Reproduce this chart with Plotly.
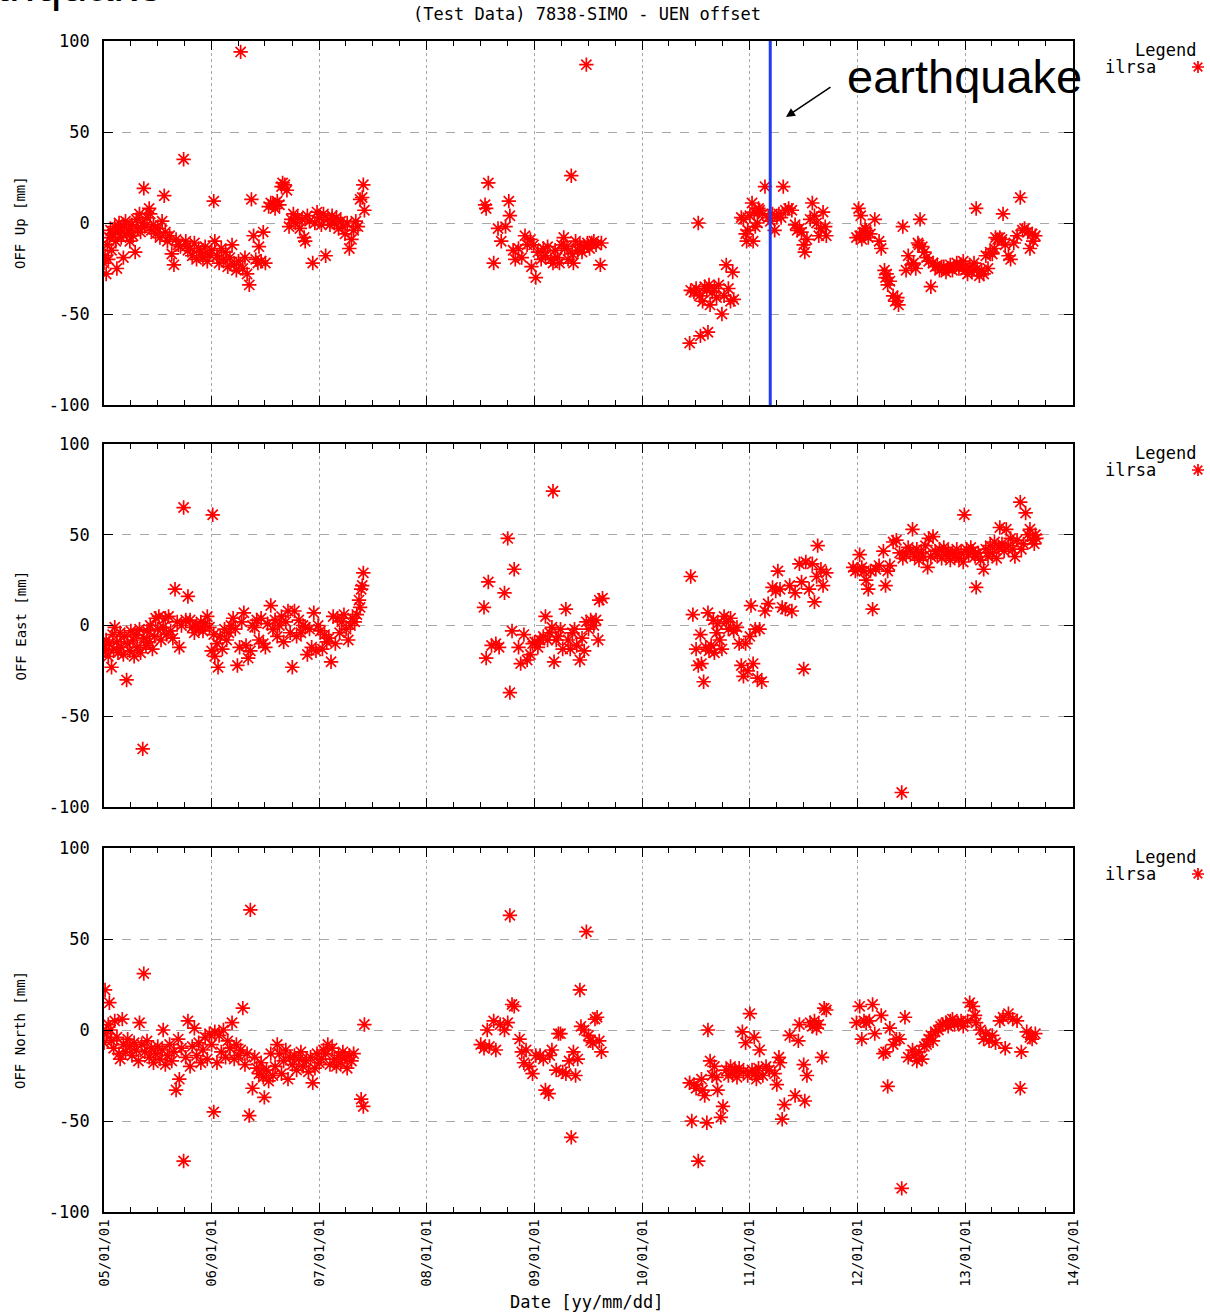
import pandas as pd
import plotly.graph_objects as go

# ---------------- data (decimal years, mm) ----------------
up_years = [
    2005.00, 2005.01, 2005.02, 2005.03, 2005.04, 2005.05, 2005.06, 2005.07, 2005.08, 2005.10,
    2005.11, 2005.12, 2005.13, 2005.14, 2005.15, 2005.16, 2005.18, 2005.19, 2005.20, 2005.21,
    2005.23, 2005.24, 2005.26, 2005.27, 2005.29, 2005.30, 2005.31, 2005.33, 2005.34, 2005.36,
    2005.37, 2005.38, 2005.40, 2005.42, 2005.43, 2005.44, 2005.46, 2005.48, 2005.50, 2005.52,
    2005.54, 2005.56, 2005.57, 2005.59, 2005.61, 2005.63, 2005.65, 2005.67, 2005.69, 2005.71,
    2005.74, 2005.76, 2005.78, 2005.80, 2005.82, 2005.84, 2005.86, 2005.88, 2005.90, 2005.92,
    2005.94, 2005.96, 2005.98, 2006.00, 2006.02, 2006.03, 2006.05, 2006.07, 2006.09, 2006.11,
    2006.13, 2006.15, 2006.17, 2006.19, 2006.21, 2006.23, 2006.25, 2006.27, 2006.29, 2006.31,
    2006.33, 2006.35, 2006.37, 2006.39, 2006.41, 2006.43, 2006.44, 2006.46, 2006.48, 2006.50,
    2006.53, 2006.55, 2006.57, 2006.59, 2006.61, 2006.63, 2006.65, 2006.66, 2006.68, 2006.70,
    2006.72, 2006.74, 2006.76, 2006.78, 2006.80, 2006.82, 2006.84, 2006.86, 2006.87, 2006.89,
    2006.91, 2006.94, 2006.96, 2006.98, 2007.00, 2007.02, 2007.04, 2007.06, 2007.08, 2007.10,
    2007.12, 2007.14, 2007.16, 2007.18, 2007.20, 2007.22, 2007.24, 2007.26, 2007.28, 2007.30,
    2007.32, 2007.34, 2007.36, 2007.38, 2007.40, 2007.41, 2007.42,
    2008.54, 2008.55, 2008.57, 2008.62, 2008.66, 2008.69, 2008.73, 2008.76, 2008.77, 2008.80,
    2008.82, 2008.85, 2008.88, 2008.91, 2008.93, 2008.96, 2008.97, 2008.99, 2009.01, 2009.03,
    2009.06, 2009.08, 2009.10, 2009.12, 2009.15, 2009.17, 2009.19, 2009.21, 2009.23, 2009.25,
    2009.27, 2009.28, 2009.30, 2009.31, 2009.34, 2009.35, 2009.36, 2009.38, 2009.40, 2009.42,
    2009.44, 2009.46, 2009.48, 2009.49, 2009.51, 2009.53, 2009.55, 2009.57, 2009.61, 2009.62,
    2010.44, 2010.45, 2010.48, 2010.50, 2010.52, 2010.53, 2010.54, 2010.56, 2010.58, 2010.60,
    2010.61, 2010.62, 2010.63, 2010.65, 2010.67, 2010.69, 2010.71, 2010.74, 2010.76, 2010.78,
    2010.80, 2010.82, 2010.84, 2010.85, 2010.92, 2010.94, 2010.96, 2010.97, 2010.98, 2011.00,
    2011.02, 2011.03, 2011.04, 2011.05, 2011.07, 2011.08, 2011.09, 2011.12, 2011.14, 2011.17,
    2011.19, 2011.21, 2011.23, 2011.25, 2011.27, 2011.29, 2011.31, 2011.33, 2011.36, 2011.39,
    2011.42, 2011.44, 2011.46, 2011.48, 2011.50, 2011.51, 2011.53, 2011.56, 2011.58, 2011.60,
    2011.62, 2011.64, 2011.66, 2011.68, 2011.70, 2011.71,
    2011.99, 2012.01, 2012.02, 2012.03, 2012.04, 2012.06, 2012.07, 2012.08, 2012.10, 2012.12,
    2012.16, 2012.20, 2012.22, 2012.25, 2012.26, 2012.27, 2012.28, 2012.30, 2012.33, 2012.35,
    2012.37, 2012.38, 2012.42, 2012.45, 2012.47, 2012.50, 2012.52, 2012.54, 2012.56, 2012.57,
    2012.58, 2012.60, 2012.62, 2012.64, 2012.66, 2012.68, 2012.70, 2012.72, 2012.74, 2012.76,
    2012.78, 2012.80, 2012.82, 2012.84, 2012.86, 2012.88, 2012.90, 2012.92, 2012.94, 2012.96,
    2012.98, 2013.00, 2013.02, 2013.04, 2013.06, 2013.08, 2013.10, 2013.11, 2013.13, 2013.15,
    2013.17, 2013.19, 2013.21, 2013.23, 2013.25, 2013.27, 2013.28, 2013.30, 2013.32, 2013.34,
    2013.35, 2013.37, 2013.40, 2013.42, 2013.45, 2013.48, 2013.51, 2013.53, 2013.55, 2013.58,
    2013.60, 2013.62, 2013.63, 2013.65,
]
up_values = [
    -22, -18, -28, -12, -20, -8, -4, -15, -6, -2,
    -10, -25, -5, 0, -3, -8, -19, -2, 1, -6,
    -4, -10, -1, -7, -16, 2, -3, 5, -5, 0,
    19, -2, 3, 8, 5, -4, -1, -6, -3, -8,
    1, 15, -5, -10, -7, -17, -23, -9, -12, -13,
    35, -10, -15, -14, -18, -11, -20, -14, -16, -19,
    -13, -21, -17, -15, 12, -10, -18, -22, -14, -20,
    -16, -24, -19, -12, -23, -26, -21, 94, -25, -19,
    -28, -34, 13, -7, -20, -22, -13, -21, -5, -22,
    9, 11, 10, 8, 12, 10, 20, 22, 21, 18,
    -2, 2, 5, 0, 3, -3, 2, -8, -10, 4,
    1, -22, 0, 6, 3, -1, 5, -18, 2, -1,
    4, 0, 3, -3, 1, -2, -6, 0, -14, -9,
    -4, 1, -2, 13, 14, 21, 7,
    10, 8, 22, -22, -3, -10, -2, 12, 4, -15,
    -20, -14, -19, -7, -12, -9, -24, -12, -30, -16,
    -20, -14, -18, -13, -20, -22, -15, -19, -22, -12,
    -8, -14, -13, -20, 26, -17, -22, -10, -15, -12,
    -16, -13, 87, -11, -14, -11, -10, -12, -23, -11,
    -66, -37, -38, -36, 0, -40, -62, -43, -35, -37,
    -60, -34, -45, -38, -36, -41, -34, -50, -40, -23,
    -36, -43, -27, -42, 3, 2, -6, -10, -4, 4,
    11, -10, 6, -2, 0, 8, 7, 5, 20, 3,
    1, 5, -4, 3, 5, 3, 20, 7, 8, 7,
    -1, -4, -3, -5, -12, -16, -9, 2, 11, 4,
    0, -7, -3, 6, -2, -7,
    -8, 8, -7, 4, -9, -5, -3, -4, -8, -6,
    2, -10, -14, -26, -30, -28, -34, -32, -40, -43,
    -41, -45, -2, -26, -18, -23, -22, -25, -11, -12,
    2, -13, -16, -19, -21, -35, -22, -24, -23, -26,
    -25, -24, -27, -25, -23, -26, -24, -22, -25, -23,
    -21, -26, -28, -24, -27, -22, 8, -25, -29, -26,
    -28, -18, -25, -16, -17, -14, -8, -9, -8, -9,
    5, -12, -18, -20, -11, -7, 14, -4, -3, -5,
    -14, -6, -10, -7,
]

east_years = [
    2005.00, 2005.01, 2005.02, 2005.04, 2005.05, 2005.07, 2005.08, 2005.09, 2005.10, 2005.12,
    2005.13, 2005.15, 2005.16, 2005.18, 2005.19, 2005.21, 2005.22, 2005.24, 2005.25, 2005.27,
    2005.28, 2005.30, 2005.31, 2005.33, 2005.34, 2005.36, 2005.37, 2005.39, 2005.40, 2005.42,
    2005.43, 2005.45, 2005.47, 2005.48, 2005.50, 2005.51, 2005.53, 2005.55, 2005.57, 2005.58,
    2005.60, 2005.62, 2005.64, 2005.66, 2005.68, 2005.70, 2005.72, 2005.74, 2005.76, 2005.78,
    2005.80, 2005.82, 2005.84, 2005.86, 2005.88, 2005.90, 2005.92, 2005.94, 2005.96, 2005.98,
    2006.00, 2006.01, 2006.02, 2006.03, 2006.05, 2006.06, 2006.08, 2006.10, 2006.12, 2006.14,
    2006.16, 2006.18, 2006.20, 2006.22, 2006.24, 2006.26, 2006.28, 2006.30, 2006.32, 2006.34,
    2006.36, 2006.38, 2006.40, 2006.42, 2006.44, 2006.46, 2006.48, 2006.50, 2006.52, 2006.55,
    2006.57, 2006.59, 2006.61, 2006.63, 2006.65, 2006.67, 2006.69, 2006.71, 2006.73, 2006.75,
    2006.77, 2006.79, 2006.81, 2006.83, 2006.85, 2006.87, 2006.89, 2006.91, 2006.93, 2006.95,
    2006.97, 2006.99, 2007.01, 2007.03, 2007.05, 2007.07, 2007.09, 2007.11, 2007.13, 2007.15,
    2007.17, 2007.19, 2007.21, 2007.23, 2007.25, 2007.27, 2007.29, 2007.31, 2007.33, 2007.35,
    2007.37, 2007.38, 2007.39, 2007.40, 2007.41,
    2008.53, 2008.55, 2008.57, 2008.60, 2008.64, 2008.67, 2008.72, 2008.75, 2008.77, 2008.79,
    2008.81, 2008.85, 2008.87, 2008.90, 2008.93, 2008.96, 2008.98, 2009.00, 2009.03, 2009.05,
    2009.08, 2009.10, 2009.12, 2009.14, 2009.16, 2009.17, 2009.18, 2009.20, 2009.22, 2009.24,
    2009.26, 2009.29, 2009.31, 2009.33, 2009.35, 2009.37, 2009.39, 2009.42, 2009.44, 2009.46,
    2009.48, 2009.50, 2009.52, 2009.55, 2009.57, 2009.59, 2009.60, 2009.63,
    2010.45, 2010.47, 2010.50, 2010.52, 2010.54, 2010.55, 2010.57, 2010.59, 2010.61, 2010.62,
    2010.64, 2010.66, 2010.67, 2010.69, 2010.70, 2010.72, 2010.74, 2010.76, 2010.78, 2010.80,
    2010.82, 2010.85, 2010.88, 2010.90, 2010.92, 2010.94, 2010.96, 2010.98, 2011.00, 2011.01,
    2011.03, 2011.05, 2011.07, 2011.09, 2011.11, 2011.14, 2011.17, 2011.21, 2011.24, 2011.26,
    2011.28, 2011.30, 2011.33, 2011.37, 2011.39, 2011.42, 2011.46, 2011.48, 2011.50, 2011.52,
    2011.55, 2011.58, 2011.60, 2011.62, 2011.63, 2011.66, 2011.68, 2011.71,
    2011.96, 2011.98, 2012.00, 2012.02, 2012.04, 2012.06, 2012.08, 2012.10, 2012.12, 2012.14,
    2012.17, 2012.20, 2012.24, 2012.26, 2012.28, 2012.30, 2012.33, 2012.36, 2012.39, 2012.41,
    2012.42, 2012.45, 2012.47, 2012.49, 2012.51, 2012.53, 2012.55, 2012.57, 2012.59, 2012.61,
    2012.63, 2012.65, 2012.66, 2012.68, 2012.70, 2012.72, 2012.74, 2012.76, 2012.78, 2012.80,
    2012.82, 2012.84, 2012.86, 2012.88, 2012.90, 2012.92, 2012.94, 2012.96, 2012.98, 2012.99,
    2013.01, 2013.03, 2013.05, 2013.07, 2013.09, 2013.10, 2013.12, 2013.14, 2013.17, 2013.19,
    2013.21, 2013.23, 2013.25, 2013.27, 2013.29, 2013.31, 2013.32, 2013.34, 2013.36, 2013.38,
    2013.40, 2013.42, 2013.44, 2013.46, 2013.48, 2013.51, 2013.52, 2013.54, 2013.56, 2013.58,
    2013.60, 2013.62, 2013.64, 2013.65, 2013.66,
]
east_values = [
    -11, -14, -8, -17, -10, -23, -5, -13, -1, -9,
    -15, -4, -12, -16, -6, -30, -10, -14, -3, -8,
    -17, -5, -12, -2, -15, -68, -7, -11, -3, -9,
    0, -13, -6, 4, -2, 5, -8, -1, 4, -5,
    5, -3, -7, 20, 2, -12, 0, 65, 3, 16,
    3, -1, -4, 0, -2, 2, -3, 1, 5, -1,
    -14, 61, -5, -17, -10, -23, -6, -13, -2, -8,
    -4, 0, 4, -2, -22, -12, 2, 7, -11, -18,
    -14, 0, -1, 3, -8, 4, -10, -12, 1, 11,
    -2, 3, -6, 0, 5, -9, 2, 8, -4, -23,
    8, -6, 3, -4, 0, -1, -16, -2, -12, 7,
    -14, 0, -3, -13, -5, -9, -7, -20, 5, -10,
    4, -4, 2, 6, -2, -8, 0, 4, 2, 6,
    14, 10, 20, 22, 29,
    10, -18, 24, -11, -10, -12, 18, 48, -37, -3,
    31, -12, -21, -5, -19, -16, -10, -9, -12, -8,
    -6, 5, -8, -4, -1, 74, -20, -8, -6, -2,
    -13, 9, -8, -13, -4, -2, -11, -19, -7, -14,
    2, -2, 3, 0, 3, -8, 14, 15,
    27, 6, -13, -22, -5, -21, -31, -12, 7, -14,
    -11, 3, -15, -4, 1, -8, -13, 5, 2, -2,
    4, -3, -1, -10, -22, -28, -10, -25, -6, 11,
    -21, -2, -29, -2, -31, 8, 12, 21, 19, 30,
    20, 10, 9, 22, 8, 18, 34, 24, -24, 35,
    20, 34, 13, 27, 44, 31, 22, 29,
    32, 30, 31, 39, 32, 30, 25, 20, 30, 9,
    31, 33, 41, 22, 30, 33, 46, 47, 40, -92,
    37, 39, 43, 41, 53, 38, 42, 36, 40, 38,
    44, 32, 48, 38, 49, 41, 39, 42, 37, 43,
    39, 41, 36, 40, 38, 42, 37, 40, 35, 61,
    42, 39, 43, 41, 38, 21, 40, 36, 31, 42,
    38, 44, 40, 46, 37, 43, 54, 45, 41, 53,
    44, 48, 42, 38, 47, 68, 42, 45, 62, 50,
    53, 47, 45, 50, 48,
]

north_years = [
    2005.00, 2005.01, 2005.02, 2005.04, 2005.05, 2005.06, 2005.07, 2005.09, 2005.10, 2005.12,
    2005.14, 2005.15, 2005.17, 2005.18, 2005.20, 2005.22, 2005.24, 2005.26, 2005.28, 2005.30,
    2005.32, 2005.33, 2005.35, 2005.37, 2005.38, 2005.40, 2005.42, 2005.44, 2005.46, 2005.48,
    2005.50, 2005.52, 2005.54, 2005.55, 2005.57, 2005.59, 2005.61, 2005.63, 2005.65, 2005.67,
    2005.69, 2005.70, 2005.72, 2005.74, 2005.76, 2005.78, 2005.80, 2005.82, 2005.84, 2005.86,
    2005.88, 2005.90, 2005.92, 2005.94, 2005.96, 2005.98, 2006.00, 2006.02, 2006.03, 2006.05,
    2006.07, 2006.09, 2006.11, 2006.13, 2006.15, 2006.17, 2006.19, 2006.21, 2006.23, 2006.25,
    2006.27, 2006.29, 2006.31, 2006.33, 2006.35, 2006.36, 2006.38, 2006.40, 2006.42, 2006.44,
    2006.46, 2006.48, 2006.49, 2006.51, 2006.53, 2006.55, 2006.57, 2006.59, 2006.61, 2006.63,
    2006.65, 2006.67, 2006.69, 2006.71, 2006.73, 2006.75, 2006.77, 2006.79, 2006.81, 2006.83,
    2006.85, 2006.88, 2006.90, 2006.92, 2006.94, 2006.96, 2006.98, 2007.00, 2007.02, 2007.04,
    2007.06, 2007.08, 2007.10, 2007.12, 2007.14, 2007.16, 2007.18, 2007.20, 2007.22, 2007.24,
    2007.26, 2007.28, 2007.30, 2007.32, 2007.39, 2007.41, 2007.42,
    2008.50, 2008.53, 2008.56, 2008.58, 2008.62, 2008.64, 2008.68, 2008.72, 2008.75, 2008.77,
    2008.79, 2008.81, 2008.86, 2008.88, 2008.90, 2008.92, 2008.95, 2008.98, 2009.01, 2009.05,
    2009.08, 2009.10, 2009.13, 2009.14, 2009.16, 2009.20, 2009.22, 2009.24, 2009.26, 2009.29,
    2009.32, 2009.34, 2009.36, 2009.38, 2009.40, 2009.42, 2009.43, 2009.46, 2009.48, 2009.50,
    2009.52, 2009.54, 2009.56, 2009.58, 2009.60, 2009.62,
    2010.44, 2010.46, 2010.48, 2010.50, 2010.52, 2010.55, 2010.56, 2010.58, 2010.60, 2010.61,
    2010.63, 2010.65, 2010.67, 2010.69, 2010.70, 2010.73, 2010.75, 2010.78, 2010.80, 2010.82,
    2010.84, 2010.86, 2010.88, 2010.90, 2010.93, 2010.94, 2010.96, 2010.98, 2011.00, 2011.02,
    2011.04, 2011.05, 2011.06, 2011.08, 2011.09, 2011.12, 2011.15, 2011.18, 2011.23, 2011.25,
    2011.27, 2011.28, 2011.30, 2011.32, 2011.37, 2011.42, 2011.45, 2011.46, 2011.50, 2011.51,
    2011.53, 2011.56, 2011.58, 2011.60, 2011.62, 2011.64, 2011.67, 2011.69, 2011.71,
    2011.99, 2012.02, 2012.04, 2012.06, 2012.08, 2012.11, 2012.14, 2012.16, 2012.22, 2012.24,
    2012.26, 2012.28, 2012.30, 2012.33, 2012.36, 2012.39, 2012.41, 2012.44, 2012.47, 2012.51,
    2012.53, 2012.55, 2012.57, 2012.60, 2012.62, 2012.64, 2012.66, 2012.68, 2012.70, 2012.72,
    2012.75, 2012.77, 2012.79, 2012.82, 2012.84, 2012.86, 2012.88, 2012.90, 2012.93, 2012.96,
    2012.98, 2013.02, 2013.04, 2013.07, 2013.09, 2013.10, 2013.14, 2013.17, 2013.19, 2013.22,
    2013.25, 2013.28, 2013.32, 2013.35, 2013.37, 2013.40, 2013.44, 2013.48, 2013.51, 2013.52,
    2013.57, 2013.60, 2013.62, 2013.65,
]
north_values = [
    -7, 22, -2, 3, 15, 0, -6, -10, 5, -4,
    -13, -16, 6, -8, -12, -5, -9, -14, -7, -11,
    -17, 4, -8, 31, -12, -6, -15, -10, -18, -13,
    -9, -16, -11, 0, -19, -14, -8, -17, -12, -33,
    -5, -27, -10, -72, -15, 5, -20, -9, 1, -14,
    -7, -18, -11, -4, -16, -2, -8, -45, -1, -18,
    -3, -12, 0, -15, -6, -10, 4, -16, -8, -14,
    -11, 12, -19, -13, -47, 66, -32, -15, -21, -24,
    -18, -26, -37, -22, -28, -13, -25, -20, -8, -13,
    -24, -17, -11, -27, -15, -19, -14, -22, -16, -12,
    -20, -17, -23, -15, -29, -21, -13, -18, -16, -11,
    -13, -8, -19, -10, -16, -20, -14, -18, -12, -15,
    -21, -14, -17, -13, -38, -42, 3,
    -8, -10, 0, -9, 5, -11, 3, 0, 4, 63,
    14, 13, -5, -12, -18, -11, -20, -24, -14, -14,
    -16, -33, -35, -14, -11, -22, -2, -2, -23, -24,
    -17, -59, -12, -25, -16, 22, 2, 0, 54, -3,
    -6, -7, 6, 7, -6, -12,
    -29, -50, -30, -32, -72, -27, -33, -36, -51, 0,
    -17, -25, -20, -26, -33, -48, -42, -22, -25, -20,
    -24, -22, -26, -21, -1, -23, -7, -25, 9, -22,
    -4, -24, -27, -21, -11, -25, -20, -22, -24, -30,
    -15, -18, -49, -41, -3, -36, -6, 3, -19, -39,
    -25, 4, 2, 5, 1, 3, -15, 12, 11,
    4, 13, -5, 5, 4, 5, 14, -2, 8, -13,
    -12, -31, 1, -8, -5, -5, -87, 7, -15, -11,
    -14, -17, -12, -16, -9, -8, -5, -3, -6, -1,
    0, 2, 3, 4, 2, 5, 6, 3, 4, 5,
    2, 5, 15, 13, 8, 4, 0, -5, -2, -6,
    -3, -7, 5, 7, -10, 9, 6, 5, -32, -12,
    -1, -4, -5, -2,
]

year_ticks = list(range(2005, 2015))
y_ticks = [-100, -50, 0, 50, 100]
panel_titles = ["OFF Up [mm]", "OFF East [mm]", "OFF North [mm]"]
series_name = "ilrsa"
earthquake_date = "2011-03-11"
chart_title = "(Test Data) 7838-SIMO - UEN offset"
x_title = "Date [yy/mm/dd]"

# ---------------- layout geometry (pixels) ----------------
W, H = 1210, 1314
L, R = 104, 1073
T, B = 41, 1212
panel_px = [(41, 405), (444, 807), (848, 1212)]
PW, PH = R - L, B - T


def px_x(p):
    return (p - L) / PW


def px_y(p):
    return (B - p) / PH


def to_dates(years):
    out = []
    for y in years:
        yr = int(y)
        s = pd.Timestamp(yr, 1, 1)
        e = pd.Timestamp(yr + 1, 1, 1)
        out.append(s + (y - yr) * (e - s))
    return out


MONO = "DejaVu Sans Mono"
FS = 17
RED = "#ff0000"
GRID = "#a8a8a8"
STAR = dict(symbol="asterisk-open", size=12, color=RED, line=dict(color=RED, width=1.7))

fig = go.Figure()
series = [(up_years, up_values), (east_years, east_values), (north_years, north_values)]
for i, (yrs, vals) in enumerate(series):
    sfx = "" if i == 0 else str(i + 1)
    fig.add_trace(go.Scatter(
        x=to_dates(yrs), y=vals, mode="markers", name=series_name,
        marker=STAR, xaxis="x" + sfx, yaxis="y" + sfx, showlegend=False,
    ))

tickvals = [pd.Timestamp(y, 1, 1) for y in year_ticks]
ticktext = [t.strftime("%y/%m/%d") for t in tickvals]

layout = dict(
    width=W, height=H,
    margin=dict(l=L, r=W - R, t=T, b=H - B, pad=0),
    paper_bgcolor="white", plot_bgcolor="white",
    showlegend=False,
    font=dict(family=MONO, size=FS, color="black"),
)

for i, (top, bot) in enumerate(panel_px):
    sfx = "" if i == 0 else str(i + 1)
    dom = [px_y(bot), px_y(top)]
    layout["xaxis" + sfx] = dict(
        domain=[0, 1], anchor="y" + sfx,
        range=[tickvals[0], tickvals[-1]], type="date",
        tickmode="array", tickvals=tickvals, ticktext=ticktext,
        showticklabels=(i == 2), tickangle=-90,
        tickfont=dict(family=MONO, size=14),
        ticks="inside", ticklen=9, tickwidth=1.2, tickcolor="black",
        minor=dict(dtick="M3", tick0="2005-01-01", ticks="inside", ticklen=5,
                   tickwidth=1.2, tickcolor="black", showgrid=False),
        showline=True, linecolor="black", linewidth=1.6, mirror="ticks",
        showgrid=True, gridcolor=GRID, griddash="dot", gridwidth=1.2,
        zeroline=False,
    )
    layout["yaxis" + sfx] = dict(
        domain=dom, anchor="x" + sfx,
        range=[-100, 100], tickmode="array", tickvals=y_ticks,
        ticktext=[str(v) for v in y_ticks],
        tickfont=dict(family=MONO, size=FS),
        ticks="inside", ticklen=9, tickwidth=1.2, tickcolor="black",
        ticklabelstandoff=9,
        showline=True, linecolor="black", linewidth=1.6, mirror="ticks",
        showgrid=True, gridcolor=GRID, griddash="dash", gridwidth=1,
        zeroline=False,
    )

fig.update_layout(**layout)


def star_path(r=6.0):
    d = r * 0.72
    return (f"M{-r},0 L{r},0 M0,{-r} L0,{r} "
            f"M{-d},{-d} L{d},{d} M{-d},{d} L{d},{-d}")


shapes = []
ann = []
for i, (top, bot) in enumerate(panel_px):
    # legend key (drawn as an asterisk next to the series name)
    shapes.append(dict(type="path", xref="paper", yref="paper",
                       xsizemode="pixel", ysizemode="pixel",
                       xanchor=px_x(1198), yanchor=px_y(top + 26),
                       path=star_path(), line=dict(color=RED, width=1.7)))
    ann.append(dict(text="Legend", xref="paper", yref="paper", x=px_x(1198), y=px_y(top + 9),
                    xanchor="right", yanchor="middle", showarrow=False,
                    font=dict(family=MONO, size=FS)))
    ann.append(dict(text=series_name, xref="paper", yref="paper", x=px_x(1158), y=px_y(top + 26),
                    xanchor="right", yanchor="middle", showarrow=False,
                    font=dict(family=MONO, size=FS)))
    ann.append(dict(text=panel_titles[i], xref="paper", yref="paper", x=px_x(20),
                    y=px_y((top + bot) / 2), xanchor="center", yanchor="middle",
                    textangle=-90, showarrow=False, font=dict(family=MONO, size=14)))

ann.append(dict(text=x_title, xref="paper", yref="paper", x=px_x(587), y=px_y(1302),
                xanchor="center", yanchor="middle", showarrow=False,
                font=dict(family=MONO, size=FS)))
ann.append(dict(text=chart_title, xref="paper", yref="paper", x=px_x(587), y=px_y(14),
                xanchor="center", yanchor="middle", showarrow=False,
                font=dict(family=MONO, size=FS)))

# earthquake label + arrow (top panel)
ann.append(dict(text="earthquake", xref="paper", yref="paper", x=px_x(964), y=px_y(77),
                xanchor="center", yanchor="middle", showarrow=False,
                font=dict(family="Liberation Sans", size=47, color="black")))
ann.append(dict(text="", xref="paper", yref="paper", x=px_x(786), y=px_y(117),
                ax=46, ay=-31, showarrow=True, arrowhead=2, arrowsize=1.2,
                arrowwidth=1.5, arrowcolor="black"))
# clipped label at very top-left of the image
ann.append(dict(text="earthquake", xref="paper", yref="paper", x=px_x(165), y=px_y(13),
                xanchor="right", yanchor="bottom", showarrow=False,
                font=dict(family="Liberation Sans", size=47, color="black")))

shapes.append(dict(type="line", xref="x", yref="y", x0=earthquake_date, x1=earthquake_date,
                   y0=-100, y1=100, line=dict(color="#1f3cf0", width=3)))

fig.update_layout(annotations=ann, shapes=shapes)

fig.write_html(
    "out.html",
    config={"displayModeBar": False},
    post_script="document.body.style.margin='0';document.body.style.overflow='hidden';",
)
